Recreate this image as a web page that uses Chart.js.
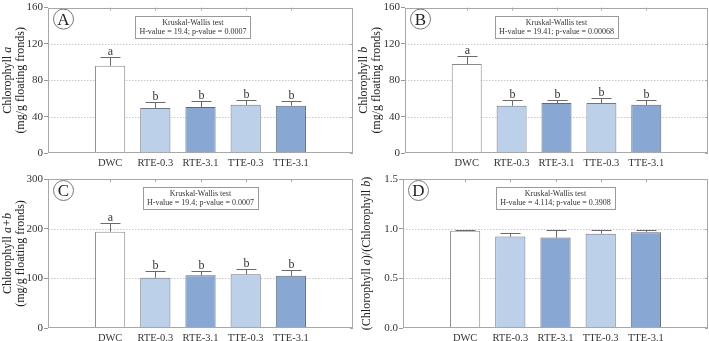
<!DOCTYPE html>
<html>
<head>
<meta charset="utf-8">
<script src="https://cdn.jsdelivr.net/npm/chart.js@4"></script>
<style>
  body { margin: 0; background: #fff; }
  canvas { position: absolute; }
</style>
</head>
<body>
<canvas id="pA" width="355" height="170" style="left:0;top:0"></canvas>
<canvas id="pB" width="354" height="170" style="left:355px;top:0"></canvas>
<canvas id="pC" width="355" height="171" style="left:0;top:170px"></canvas>
<canvas id="pD" width="354" height="171" style="left:355px;top:170px"></canvas>
<script>
// groups on the x axis
const groups = ['DWC', 'RTE-0.3', 'RTE-3.1', 'TTE-0.3', 'TTE-3.1'];

// means and upper error (SD)
const chlA = [96, 49.5, 50.5, 53, 52];
const chlAErr = [9.5, 6.5, 6.5, 5.5, 5.5];
const chlB = [98, 52, 55, 55, 53];
const chlBErr = [9, 6.5, 3, 5, 5.5];
const chlAB = [194, 101, 106, 108, 105];
const chlABErr = [18, 14, 9, 11, 12];
const ratioAB = [0.98, 0.92, 0.91, 0.95, 0.965];
const ratioABErr = [0.01, 0.035, 0.075, 0.033, 0.022];

// significance letters
const lettersABC = ['a', 'b', 'b', 'b', 'b'];

// y axis limits and steps
const yMaxA = 160, yStepA = 40;
const yMaxC = 300, yStepC = 100;
const yMaxD = 1.5, yStepD = 0.5;

// test boxes
const testA = ['Kruskal-Wallis test', 'H-value = 19.4; p-value = 0.0007'];
const testB = ['Kruskal-Wallis test', 'H-value = 19.41; p-value = 0.00068'];
const testC = ['Kruskal-Wallis test', 'H-value = 19.4; p-value = 0.0007'];
const testD = ['Kruskal-Wallis test', 'H-value = 4.114; p-value = 0.3908'];

const FONT = "'Liberation Serif', serif";
const fills = ['#ffffff', '#bdd0e9', '#88a8d3', '#bdd0e9', '#88a8d3'];
const edges = ['#8a8a8a', '#6f7784', '#5f6878', '#6f7784', '#5f6878'];

function drawRich(ctx, parts, x, y, size) {
  // measure and draw mixed upright/italic text centered at x
  ctx.textAlign = 'left';
  let total = 0;
  parts.forEach(p => {
    ctx.font = (p[1] ? 'italic ' : '') + size + 'px ' + FONT;
    total += ctx.measureText(p[0]).width;
  });
  let cx = x - total / 2;
  parts.forEach(p => {
    ctx.font = (p[1] ? 'italic ' : '') + size + 'px ' + FONT;
    ctx.fillText(p[0], cx, y);
    cx += ctx.measureText(p[0]).width;
  });
}

const panelPlugin = {
  id: 'panel',
  beforeDatasetsDraw(chart) {
    const {ctx, chartArea: a, scales: {y}} = chart;
    ctx.save();
    // dotted grid
    ctx.strokeStyle = '#c8c8c8';
    ctx.lineWidth = 1;
    ctx.setLineDash([1.5, 1.5]);
    y.ticks.forEach(t => {
      if (t.value <= 0 || t.value >= y.max) return;
      const py = Math.round(y.getPixelForValue(t.value)) + 0.5;
      ctx.beginPath(); ctx.moveTo(a.left, py); ctx.lineTo(a.right, py); ctx.stroke();
    });
    ctx.restore();
  },
  afterDatasetsDraw(chart) {
    const {ctx, chartArea: a, scales: {x, y}} = chart;
    const o = chart.options.plugins.panel;
    ctx.save();
    // frame
    ctx.strokeStyle = '#a8a8a8';
    ctx.lineWidth = 1;
    ctx.strokeRect(Math.round(a.left) + 0.5, Math.round(a.top) + 0.5,
      Math.round(a.right - a.left) - 1, Math.round(a.bottom - a.top) - 1);
    // top ticks at groups, right ticks at values
    groups.forEach((g, i) => {
      const px = Math.round(x.getPixelForValue(i)) + 0.5;
      ctx.beginPath(); ctx.moveTo(px, a.top); ctx.lineTo(px, a.top + 3); ctx.stroke();
    });
    y.ticks.forEach(t => {
      const py = Math.round(y.getPixelForValue(t.value)) + 0.5;
      ctx.beginPath(); ctx.moveTo(a.right, py); ctx.lineTo(a.right - 3, py); ctx.stroke();
    });
    // error bars and letters
    const meta = chart.getDatasetMeta(0);
    ctx.strokeStyle = '#6a6a6a';
    ctx.fillStyle = '#333';
    ctx.textAlign = 'center';
    ctx.textBaseline = 'alphabetic';
    o.means.forEach((m, i) => {
      const px = Math.round(meta.data[i].x) + 0.5;
      const top = y.getPixelForValue(m);
      const cap = Math.round(y.getPixelForValue(m + o.errs[i])) + 0.5;
      ctx.beginPath();
      ctx.moveTo(px, top); ctx.lineTo(px, cap);
      ctx.moveTo(px - 10, cap); ctx.lineTo(px + 10, cap);
      ctx.stroke();
      if (o.letters) {
        ctx.font = '12px ' + FONT;
        ctx.fillText(o.letters[i], px, cap - 3);
      }
    });
    // test box
    const bx = a.left + (a.right - a.left) * o.boxPos;
    ctx.font = '8px ' + FONT;
    const w = Math.max(...o.test.map(t => ctx.measureText(t).width)) + 8;
    const by = a.top + 8;
    ctx.fillStyle = '#fff';
    ctx.fillRect(bx - w / 2, by, w, 22);
    ctx.strokeStyle = '#9a9a9a';
    ctx.strokeRect(Math.round(bx - w / 2) + 0.5, Math.round(by) + 0.5, Math.round(w), 22);
    ctx.fillStyle = '#333';
    ctx.fillText(o.test[0], bx, by + 9);
    ctx.fillText(o.test[1], bx, by + 18);
    // panel letter in circle
    const cx = a.left + 15.5, cy = a.top + 11.5;
    ctx.beginPath(); ctx.arc(cx, cy, 10, 0, Math.PI * 2);
    ctx.fillStyle = '#fff'; ctx.fill();
    ctx.strokeStyle = '#777'; ctx.stroke();
    ctx.fillStyle = '#222';
    ctx.font = '17px ' + FONT;
    ctx.textBaseline = 'middle';
    ctx.fillText(o.tag, cx, cy + 1);
    // y title
    ctx.translate(0, (a.top + a.bottom) / 2);
    ctx.rotate(-Math.PI / 2);
    ctx.textBaseline = 'middle';
    ctx.fillStyle = '#222';
    o.title.forEach((line, k) => drawRich(ctx, line, 0, o.titleX[k], 12));
    ctx.restore();
  }
};

function makePanel(id, means, errs, letters, yMax, yStep, tag, test, title, titleX, area, boxPos) {
  const cv = document.getElementById(id);
  new Chart(cv, {
    type: 'bar',
    data: {
      datasets: [{
        data: means.map((v, i) => ({x: i, y: v})),
        backgroundColor: fills,
        borderColor: edges,
        borderWidth: 1,
        barPercentage: 0.668,
        categoryPercentage: 1
      }]
    },
    options: {
      responsive: false,
      animation: false,
      layout: { padding: { left: 0, top: area[1], right: cv.width - area[2], bottom: 0 } },
      plugins: {
        legend: { display: false },
        tooltip: { enabled: false },
        panel: { means, errs, letters, tag, test, title, titleX, boxPos }
      },
      scales: {
        x: {
          type: 'linear', min: -0.7, max: 4.7,
          afterBuildTicks: s => { s.ticks = groups.map((g, i) => ({value: i})); },
          afterFit: s => { s.height = cv.height - area[3]; },
          grid: { display: false, drawTicks: false, tickLength: 0 },
          border: { display: false },
          ticks: {
            autoSkip: false, maxRotation: 0, padding: 4,
            color: '#333', font: { family: FONT, size: 10.5 },
            callback: v => groups[v]
          }
        },
        y: {
          min: 0, max: yMax,
          afterFit: s => { s.width = area[0]; },
          grid: { drawOnChartArea: false, tickLength: 4, color: '#999' },
          border: { display: false },
          ticks: {
            stepSize: yStep, padding: 1,
            color: '#333', font: { family: FONT, size: 11 },
            callback: v => yMax < 10 ? v.toFixed(1) : v
          }
        }
      }
    },
    plugins: [panelPlugin]
  });
}

makePanel('pA', chlA, chlAErr, lettersABC, yMaxA, yStepA, 'A', testA,
  [[['Chlorophyll ', false], ['a', true]], [['(mg/g floating fronds)', false]]], [8, 21],
  [48, 5, 353, 153], 0.475);
makePanel('pB', chlB, chlBErr, lettersABC, yMaxA, yStepA, 'B', testB,
  [[['Chlorophyll ', false], ['b', true]], [['(mg/g floating fronds)', false]]], [9, 22],
  [50, 5, 353, 153], 0.5);
makePanel('pC', chlAB, chlABErr, lettersABC, yMaxC, yStepC, 'C', testC,
  [[['Chlorophyll ', false], ['a+b', true]], [['(mg/g floating fronds)', false]]], [8, 21],
  [48, 9, 353, 158], 0.5);
makePanel('pD', ratioAB, ratioABErr, null, yMaxD, yStepD, 'D', testD,
  [[['(Chlorophyll ', false], ['a', true], [')/(Chlorophyll ', false], ['b', true], [')', false]]], [12],
  [48, 9, 353, 158], 0.5);
</script>
</body>
</html>
